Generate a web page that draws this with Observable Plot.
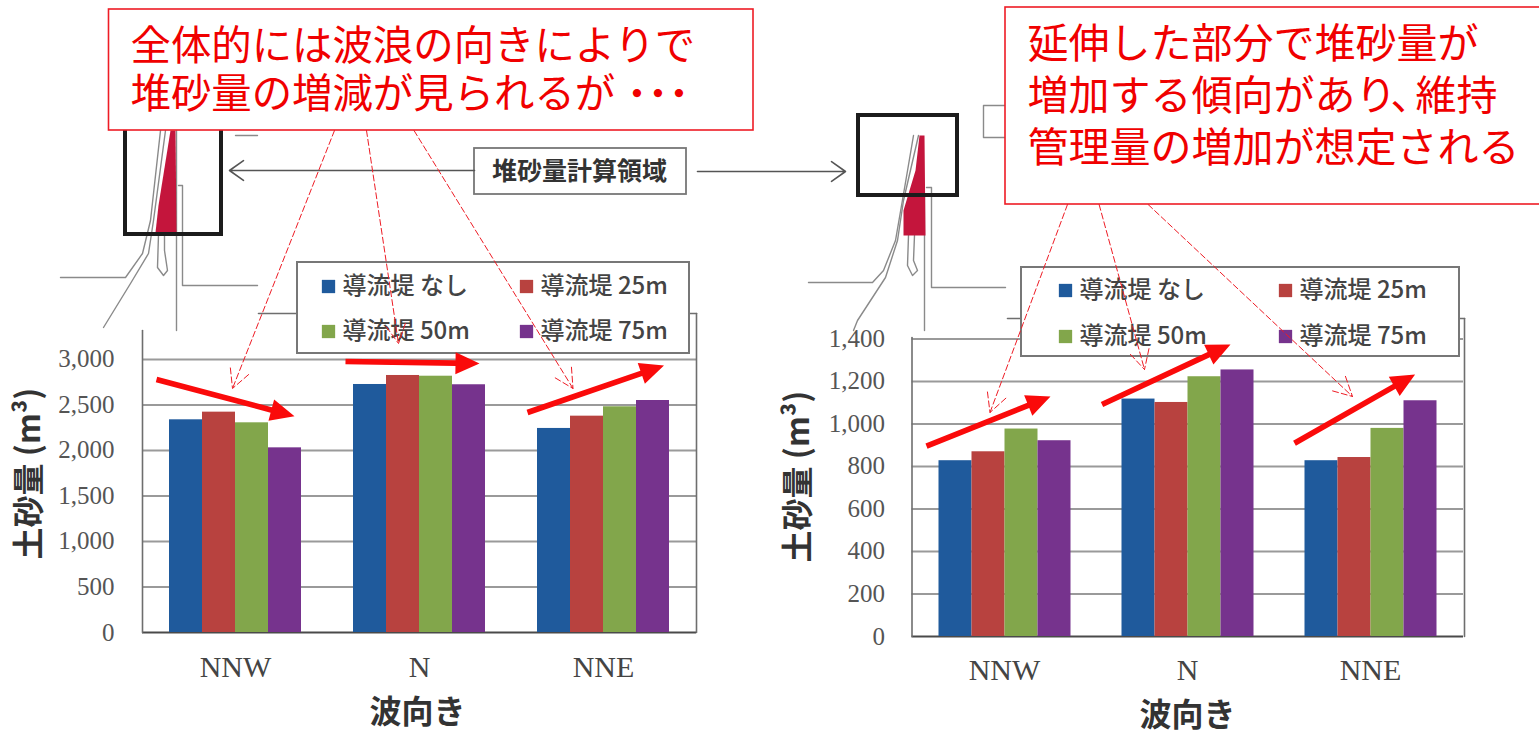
<!DOCTYPE html>
<html lang="ja">
<head>
<meta charset="utf-8">
<title>堆砂量の比較</title>
<script src="https://cdn.jsdelivr.net/npm/d3@7"></script>
<script src="https://cdn.jsdelivr.net/npm/@observablehq/plot@0.6"></script>
<style>
  html, body { margin: 0; background: #fff; }
  #page { position: relative; width: 1539px; height: 730px; overflow: hidden; }
  #page > * { position: absolute; }
</style>
</head>
<body>
<div id="page"></div>
<script>
// Wave directions and groyne lengths
const waveDirections = ["NNW", "N", "NNE"];
const groyneCases = ["導流堤 なし", "導流堤 25m", "導流堤 50m", "導流堤 75m"];
const caseColors = ["#1f5a9c", "#b8423f", "#82a64b", "#76338d"];

// Sediment volume (m³), one list per groyne case, ordered as waveDirections
const areaAVolumes = [
  [2337, 2725, 2242],
  [2421, 2824, 2377],
  [2304, 2816, 2480],
  [2029, 2722, 2549]
];
const areaBVolumes = [
  [827, 1117, 827],
  [869, 1101, 842],
  [976, 1222, 979],
  [921, 1254, 1109]
];
const areaATicks = [0, 500, 1000, 1500, 2000, 2500, 3000];
const areaBTicks = [0, 200, 400, 600, 800, 1000, 1200, 1400];

const serif = "'Liberation Serif', serif";
const sans = "'Noto Sans CJK JP', sans-serif";

function rowsFrom(volumes) {
  return groyneCases.flatMap((name, i) =>
    waveDirections.map((direction, j) => ({direction, name, volume: volumes[i][j]})));
}

// One grouped bar chart, as two stacked plots sharing a frame:
// the value axis with gridlines below, the faceted bars above.
function barChart({volumes, ticks, yMax, left, top, tickPadding, fxPadding, ...frame}) {
  const shared = {width: 720, height: 430, ...frame, style: {background: "transparent"}};
  const y = {domain: [0, yMax], axis: null};
  const grid = Plot.plot({
    ...shared, y,
    marks: [
      Plot.ruleY(ticks.slice(1), {stroke: "#9a9a9a", strokeWidth: 2}),
      Plot.axisY({
        ticks, tickSize: 0, tickPadding, label: null,
        tickFormat: d3.format(","),
        fontFamily: serif, fontSize: 25, fill: "#555"
      }),
      Plot.ruleY([0], {stroke: "#4a4a4a", strokeWidth: 2})
    ]
  });
  const bars = Plot.plot({
    ...shared, y,
    x: {domain: groyneCases, axis: null, padding: 0},
    fx: {domain: waveDirections, paddingInner: 0.28, paddingOuter: 0.14, axis: null},
    color: {domain: groyneCases, range: caseColors},
    marks: [
      Plot.barY(rowsFrom(volumes), {fx: "direction", x: "name", y: "volume", fill: "name"}),
      Plot.axisFx({
        anchor: "bottom", tickSize: 0, tickPadding: fxPadding, label: null,
        fontFamily: serif, fontSize: 30, fill: "#444"
      })
    ]
  });
  for (const svg of [grid, bars]) {
    svg.style.left = left + "px";
    svg.style.top = top + "px";
  }
  return [grid, bars];
}

const page = document.getElementById("page");

page.append(...barChart({
  volumes: areaAVolumes, ticks: areaATicks, yMax: 3505, left: 0, top: 300,
  marginLeft: 142, marginRight: 24, marginTop: 13, marginBottom: 98,
  tickPadding: 28, fxPadding: 23
}));
page.append(...barChart({
  volumes: areaBVolumes, ticks: areaBTicks, yMax: 1496, left: 770, top: 300,
  marginLeft: 141.5, marginRight: 27, marginTop: 18, marginBottom: 94,
  tickPadding: 27, fxPadding: 22
}));

// ---- Annotation layer in page coordinates ----

const polyline = points => points.map(([x, y]) => ({x, y}));

// Filled block arrow as a closed outline
function blockArrow([x1, y1], [x2, y2], shaft = 2.8, headLength = 24, headHalf = 11) {
  const len = Math.hypot(x2 - x1, y2 - y1);
  const ux = (x2 - x1) / len, uy = (y2 - y1) / len;
  const nx = -uy, ny = ux;
  const bx = x2 - ux * headLength, by = y2 - uy * headLength;
  return polyline([
    [x1 + nx * shaft, y1 + ny * shaft],
    [bx + nx * shaft, by + ny * shaft],
    [bx + nx * headHalf, by + ny * headHalf],
    [x2, y2],
    [bx - nx * headHalf, by - ny * headHalf],
    [bx - nx * shaft, by - ny * shaft],
    [x1 - nx * shaft, y1 - ny * shaft]
  ]);
}

// Harbour plan sketches
const coastLines = [
  [[160,130],[150,220],[142,253],[125,277],[60,277]],
  [[165,130],[153,220],[148,253],[130,283],[103,327]],
  [[158,234],[157,267],[163,275],[167,270],[164,250],[164,234]],
  [[176,130],[176,330]],
  [[178,185],[182,185],[182,285],[257,285]],
  [[235,135],[257,135]],
  [[913,135],[905,182],[895,240],[883,270],[872,282],[808,282]],
  [[918,135],[903,200],[897,240],[885,277],[857,320],[853,330]],
  [[908,235],[907,265],[912,275],[917,270],[913,260],[914,235]],
  [[924,195],[924,330]],
  [[926,187],[931,187],[931,287],[1005,287]],
  [[1005,105],[983,105],[983,137],[1005,137]]
];
const frameLines = [
  [[142,330],[142,632]],
  [[696,313],[696,632]],
  [[258,313],[297,313]],
  [[689,313],[696,313]],
  [[911.5,337],[911.5,636]],
  [[1464,318],[1464,636]],
  [[1007,318],[1021,318]],
  [[1459,318],[1464,318]]
];
const dredgedAreas = [
  [[170,130],[175,130],[176,232],[155,232],[158,205]],
  [[919,135],[924,135],[925,235],[903,235],[903,210],[915,170]]
];
const regionBoxes = [
  {x1: 125, x2: 221, y1: 110, y2: 234},
  {x1: 858, x2: 957, y1: 115, y2: 195}
];

// The second callout runs off the right edge of the page
const callouts = [
  {x1: 108.5, x2: 753, y1: 9, y2: 130},
  {x1: 1005, x2: 1560, y1: 7, y2: 204}
];
const calloutLines = [
  {text: "全体的には波浪の向きによりで", x: 130, y: 47, size: 40.4},
  {text: "堆砂量の増減が見られるが", x: 130, y: 95, size: 40.4},
  {text: "延伸した部分で堆砂量が", x: 1027, y: 44, size: 41},
  {text: "増加する傾向があり", x: 1027, y: 96, size: 41},
  {text: "維持", x: 1415, y: 96, size: 41},
  {text: "管理量の増加が想定される", x: 1027, y: 148, size: 41}
];
const leaders = [
  {x1: 334, y1: 130, x2: 232, y2: 388},
  {x1: 366, y1: 130, x2: 398, y2: 343},
  {x1: 413.5, y1: 130, x2: 572.5, y2: 388},
  {x1: 1067, y1: 204, x2: 989.5, y2: 412},
  {x1: 1098.6, y1: 204, x2: 1144, y2: 369},
  {x1: 1147.6, y1: 204, x2: 1352, y2: 396}
];
const trendArrows = [
  [[156,379],[294,415.7]],
  [[345,361],[479,363]],
  [[527,412],[663.5,365]],
  [[926,445.7],[1050,396]],
  [[1101.5,404],[1230,344]],
  [[1294,442.7],[1414.6,374]]
];

const legendBoxes = [
  {x1: 297, x2: 689, y1: 262, y2: 353},
  {x1: 1021, x2: 1459, y1: 267, y2: 356}
];
const legendSlots = [
  [[322, 286], [520, 286], [322, 331], [520, 331]],
  [[1059, 290], [1279, 290], [1059, 336], [1279, 336]]
];
const legendEntries = legendSlots.flatMap(slots =>
  slots.map(([x, y], i) => ({x, y, name: groyneCases[i], color: caseColors[i]})));

const axisTitles = [
  {text: "波向き", x: 417, y: 712, rotate: 0},
  {text: "波向き", x: 1187, y: 715, rotate: 0},
  {text: "土砂量 (m³)", x: 29, y: 473, rotate: -90},
  {text: "土砂量 (m³)", x: 798.5, y: 476, rotate: -90}
];

const overlay = Plot.plot({
  width: 1539, height: 730,
  marginTop: 0, marginRight: 0, marginBottom: 0, marginLeft: 0,
  style: {background: "transparent", pointerEvents: "none"},
  x: {type: "identity", axis: null},
  y: {type: "identity", axis: null},
  marks: [
    ...frameLines.map(pts => Plot.line(polyline(pts), {x: "x", y: "y", stroke: "#6e6e6e", strokeWidth: 1.6})),
    ...coastLines.map(pts => Plot.line(polyline(pts), {x: "x", y: "y", stroke: "#8a8a8a", strokeWidth: 1.4})),
    ...dredgedAreas.map(pts => Plot.line(polyline(pts), {x: "x", y: "y", fill: "#c4153c", stroke: "none"})),
    Plot.rect(regionBoxes, {x1: "x1", x2: "x2", y1: "y1", y2: "y2", stroke: "#1c1c1c", strokeWidth: 4, fill: "none"}),

    // Calculation-area tag and its two pointers
    Plot.rect([{x1: 474, x2: 686, y1: 148, y2: 194}], {x1: "x1", x2: "x2", y1: "y1", y2: "y2", stroke: "#777", strokeWidth: 1.8, fill: "#fff"}),
    Plot.text(["堆砂量計算領域"], {x: () => 579, y: () => 171, text: d => d, fontFamily: sans, fontSize: 25, fontWeight: 700, fill: "#333"}),
    Plot.arrow([{x1: 474, x2: 229, y1: 170, y2: 170}, {x1: 697, x2: 845, y1: 171, y2: 171}], {
      x1: "x1", x2: "x2", y1: "y1", y2: "y2", stroke: "#555", strokeWidth: 1.6, headLength: 16, headAngle: 70
    }),

    // Legends
    Plot.rect(legendBoxes, {x1: "x1", x2: "x2", y1: "y1", y2: "y2", stroke: "#777", strokeWidth: 2, fill: "#fff"}),
    Plot.dot(legendEntries, {x: d => d.x + 6, y: "y", symbol: "square", r: 7.5, fill: "color"}),
    Plot.text(legendEntries, {x: d => d.x + 20, y: "y", text: "name", textAnchor: "start", fontFamily: sans, fontSize: 24, fontWeight: 500, fill: "#444"}),

    // Axis titles
    Plot.text(axisTitles, {x: "x", y: "y", text: "text", rotate: "rotate", fontFamily: sans, fontSize: 32, fontWeight: 700, fill: "#333"}),

    // Leader lines from the callouts
    Plot.arrow(leaders, {x1: "x1", y1: "y1", x2: "x2", y2: "y2", stroke: "#ee1c25", strokeWidth: 1, strokeDasharray: "6 3", headLength: 32, headAngle: 55}),

    // Trend arrows over the bars
    ...trendArrows.map(([a, b]) => Plot.line(blockArrow(a, b), {x: "x", y: "y", fill: "#fa0a0a", stroke: "none"})),

    // Callouts
    Plot.rect(callouts, {x1: "x1", x2: "x2", y1: "y1", y2: "y2", stroke: "#ee1c25", strokeWidth: 1.6, fill: "#fff"}),
    ...calloutLines.map(line => Plot.text([line], {x: "x", y: "y", text: "text", textAnchor: "start", fontFamily: sans, fontSize: line.size, fill: "#f00000"})),
    // Narrow punctuation set tighter than the full-width cell
    Plot.text(["･･･"], {x: () => 626, y: () => 95, text: d => d, textAnchor: "start", fontFamily: sans, fontSize: 42, fontWeight: 700, fill: "#f00000"}),
    Plot.text(["､"], {x: () => 1391, y: () => 96, text: d => d, textAnchor: "start", fontFamily: sans, fontSize: 41, fill: "#f00000"})
  ]
});
overlay.style.left = "0";
overlay.style.top = "0";
page.append(overlay);
</script>
</body>
</html>
